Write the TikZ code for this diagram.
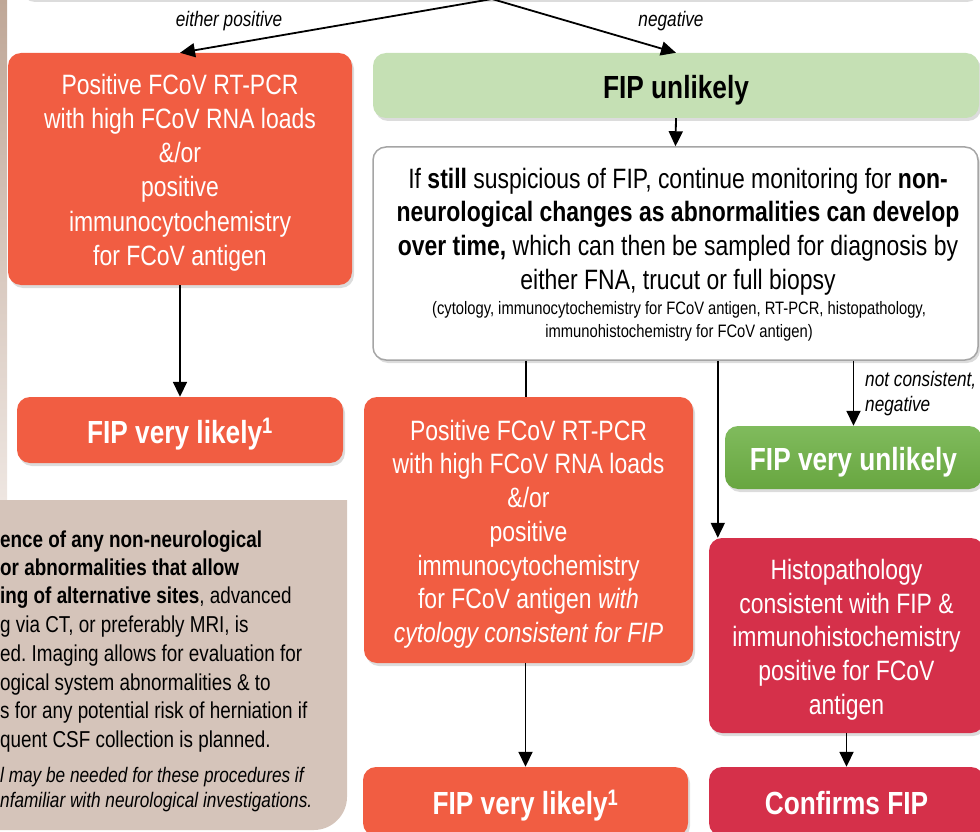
\documentclass[tikz,border=0pt]{standalone}
\usepackage{fontspec}
\setmainfont{Liberation Sans}[FakeStretch=0.82]
\usetikzlibrary{arrows.meta,shadows}
\frenchspacing
\definecolor{orng}{HTML}{F15D42}
\definecolor{crim}{HTML}{D5304A}
\definecolor{lgreen}{HTML}{C5E0B4}
\definecolor{mgreenA}{HTML}{80BB5D}
\definecolor{mgreenB}{HTML}{68A640}
\definecolor{beige}{HTML}{D5C4BA}
\definecolor{stripA}{HTML}{BFA797}
\definecolor{stripB}{HTML}{EEE6E1}
\definecolor{bordergray}{HTML}{A5A5A5}
\newcommand{\topstrut}[1]{\rule{0pt}{#1pt}}
\begin{document}
\begin{tikzpicture}[x=1pt,y=-1pt,
  shad/.style={drop shadow={opacity=0.28,shadow xshift=2pt,shadow yshift=-3pt}},
  box/.style={rounded corners=13pt,inner sep=0pt,align=center,shad},
  reg/.style={font=\fontsize{28}{33.7}\selectfont},
  ttl/.style={font=\bfseries\fontsize{32}{38}\selectfont,text height=26pt,text depth=0pt},
  lbl/.style={font=\itshape\fontsize{21}{25}\selectfont,inner sep=0pt},
  arr/.style={-{Triangle[length=15pt,width=14pt]},line width=1.8pt},
  ln/.style={line width=1.8pt},
  btxt/.style={font=\fontsize{23}{28}\selectfont,inner sep=0pt,anchor=base west},
  itxt/.style={font=\itshape\fontsize{21}{25}\selectfont,inner sep=0pt,anchor=base west},
]
\useasboundingbox (0,0) rectangle (980,832);
\clip (0,0) rectangle (980,832);
\shade[top color=stripA,bottom color=stripB] (0,0) rectangle (7,500);

% top (cut off) box
\node[box,draw=bordergray,line width=1.2pt,fill=white,minimum width=958pt,minimum height=80pt] (top) at (499,-41) {};
\coordinate (topS) at (492,-1);

% left column
\node[box,fill=orng,text=white,font=\fontsize{28}{34.2}\selectfont,minimum width=344pt,minimum height=232pt] (posL) at (180,169)
  {\topstrut{27.5}Positive FCoV RT-PCR\\with high FCoV RNA loads\\\&/or\\positive\\immunocytochemistry\\for FCoV antigen};
\node[box,fill=orng,text=white,ttl,minimum width=326pt,minimum height=66pt] (likelyL) at (180,430)
  {FIP very likely\textsuperscript{1}};

% beige note
\fill[beige] (-30,500) -- (347,500) -- (347,797) .. controls (347,815) and (332,830) .. (314,830) -- (-30,830) -- cycle;
\node[btxt] (b1) at (0,547) {\textbf{ence of any non-neurological}};
\node[btxt] (b2) at (0,575) {\textbf{or abnormalities that allow}};
\node[btxt] (b3) at (0,603) {\textbf{ing of alternative sites}, advanced};
\node[btxt] (b4) at (0,632) {g via CT, or preferably MRI, is};
\node[btxt] (b5) at (0,661) {ed. Imaging allows for evaluation for};
\node[btxt] (b6) at (0,690) {ogical system abnormalities \& to};
\node[btxt] (b7) at (0,718) {s for any potential risk of herniation if};
\node[btxt] (b8) at (0,747) {quent CSF collection is planned.};
\node[itxt] (b9) at (0,782) {l may be needed for these procedures if};
\node[itxt] (b10) at (0,807) {nfamiliar with neurological investigations.};

% middle / right
\node[box,fill=lgreen,ttl,minimum width=606pt,minimum height=65pt] (unlikely) at (676,85.5) {FIP unlikely};
\node[box,draw=bordergray,line width=1.5pt,fill=white,minimum width=605pt,minimum height=213pt] (still) at (675.5,253.5) {};
\node[reg,align=center,inner sep=0pt] (stillTxt) at (678,231.5)
  {If \textbf{still} suspicious of FIP, continue monitoring for \textbf{non-}\\\textbf{neurological changes as abnormalities can develop}\\\textbf{over time,} which can then be sampled for diagnosis by\\either FNA, trucut or full biopsy};
\node[font=\fontsize{18}{23}\selectfont,align=center,inner sep=0pt] (stillSmall) at (679,321)
  {(cytology, immunocytochemistry for FCoV antigen, RT-PCR, histopathology,\\immunohistochemistry for FCoV antigen)};

\node[box,fill=orng,text=white,reg,minimum width=329pt,minimum height=266pt] (posM) at (528.5,530)
  {\topstrut{28.5}Positive FCoV RT-PCR\\with high FCoV RNA loads\\\&/or\\positive\\immunocytochemistry\\for FCoV antigen \textit{with}\\\textit{cytology consistent for FIP}};
\node[box,fill=orng,text=white,ttl,minimum width=325pt,minimum height=69pt] (likelyM) at (525.5,801.5)
  {FIP very likely\textsuperscript{1}};

\node[box,top color=mgreenA,bottom color=mgreenB,text=white,ttl,minimum width=257pt,minimum height=63pt] (vunlikely) at (853.5,457.5) {FIP very unlikely};
\node[box,fill=crim,text=white,reg,minimum width=275pt,minimum height=195pt] (histo) at (846.5,635.5)
  {\topstrut{28.5}Histopathology\\consistent with FIP \&\\immunohistochemistry\\positive for FCoV\\antigen};
\node[box,fill=crim,text=white,ttl,minimum width=275pt,minimum height=69pt] (confirms) at (846.5,801.5) {Confirms FIP};

% labels
\node[lbl] (lblPos) at (229,21) {either positive};
\node[lbl] (lblNeg) at (671,21) {negative};
\node[lbl,anchor=west,align=left] (lblNC) at (865,394) {not consistent,\\negative};

% connectors
\draw[arr] (topS) -- (posL.north);
\draw[arr] (topS) -- (unlikely.north);
\draw[arr] (unlikely.south) -- (still.north);
\draw[arr] (posL.south) -- (likelyL.north);
\draw[ln] ([xshift=-2.5pt]still.south -| posM.north) -- ([xshift=-2.5pt]posM.north);
\draw[arr] ([xshift=9pt]still.south -| histo.north west) -- ([xshift=9pt]histo.north west);
\draw[arr] (still.south -| vunlikely.north) -- (vunlikely.north);
\draw[arr] (posM.south -| likelyM.north) -- (likelyM.north);
\draw[arr] (histo.south) -- (confirms.north);
\end{tikzpicture}
\end{document}
